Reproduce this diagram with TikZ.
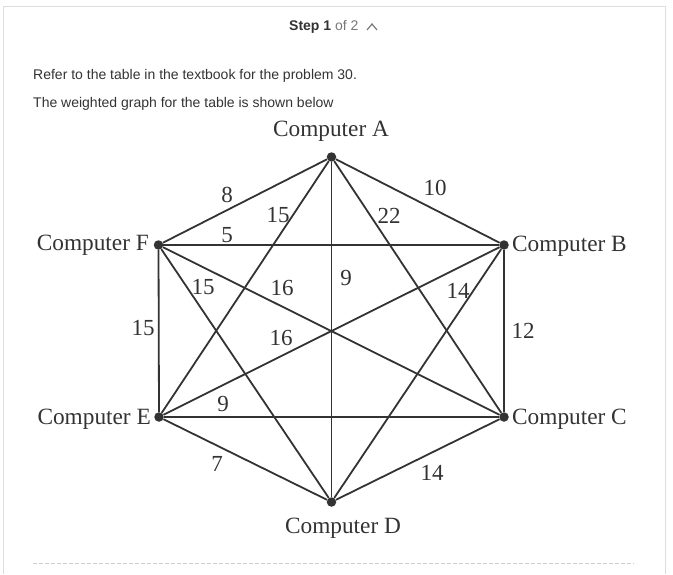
\documentclass[tikz,border=0pt]{standalone}
\usepackage{fontspec}
\setmainfont{Liberation Serif}
\newfontfamily\uifont{Liberation Sans}
\definecolor{ink}{HTML}{333333}
\definecolor{frame}{HTML}{DDDDDD}
\definecolor{muted}{HTML}{777777}
\begin{document}
\begin{tikzpicture}[x=1pt,y=-1pt,
    vert/.style={circle, fill=ink, inner sep=0pt, minimum size=9.5pt},
    edge/.style={draw=ink, line width=1.8pt},
    wt/.style={inner sep=0pt, text=ink, font=\fontsize{23}{27}\selectfont},
    cname/.style={inner sep=0pt, text=ink, font=\fontsize{23.3}{28}\selectfont},
    ui/.style={inner sep=0pt, anchor=west, text=ink, font=\uifont\fontsize{14}{17}\selectfont}]
    \useasboundingbox (0,0) rectangle (673,574);
    % panel
    \draw[frame, line width=1pt] (3,574) -- (3,6) -- (665,6) -- (665,574);
    \node[ui] (step) at (289,27) {\textbf{Step 1} \textcolor{muted}{of 2}};
    \coordinate (caret) at (372,27);
    \draw[muted, line width=1.2pt] ([xshift=-5pt,yshift=-3pt]caret) -- ([yshift=3pt]caret) -- ([xshift=5pt,yshift=-3pt]caret);
    \node[ui] (refer) at (33,76) {Refer to the table in the textbook for the problem 30.};
    \node[ui] (shown) at (33,104) {The weighted graph for the table is shown below};
    \draw[frame!85!gray, line width=1pt, dash pattern=on 4pt off 2pt] (33,563) -- (634,563);

    % computers
    \node[vert] (A) at (331.5,157) {};
    \node[vert] (F) at (158.5,245) {};
    \node[vert] (B) at (504,245) {};
    \node[vert] (E) at (159,417) {};
    \node[vert] (C) at (504,417) {};
    \node[vert] (D) at (331.5,502) {};

    \node[cname] (labA) at (331,131) {Computer A};
    \node[cname, anchor=east] (labF) at (149,245) {Computer F};
    \node[cname, anchor=west] (labB) at (512,246) {Computer B};
    \node[cname, anchor=east] (labE) at (151,419) {Computer E};
    \node[cname, anchor=west] (labC) at (512,419) {Computer C};
    \node[cname] (labD) at (343,528) {Computer D};

    % links
    \draw[edge] (A) -- (F);
    \draw[edge] (A) -- (B);
    \draw[edge] (A) -- (E);
    \draw[edge] (A) -- (C);
    \draw[edge] (A) -- (D);
    \draw[edge] (F) -- (B);
    \draw[edge] (F) -- (E);
    \draw[edge] (F) -- (C);
    \draw[edge] (F) -- (D);
    \draw[edge] (B) -- (C);
    \draw[edge] (B) -- (E);
    \draw[edge] (B) -- (D);
    \draw[edge] (E) -- (C);
    \draw[edge] (E) -- (D);
    \draw[edge] (C) -- (D);

    % weights
    \node[wt] (wAF) at (227,195) {8};
    \node[wt] (wAB) at (435,188) {10};
    \node[wt] (wAE) at (278,215) {15};
    \node[wt] (wAC) at (389,216) {22};
    \node[wt] (wFB) at (227,235) {5};
    \node[wt] (wFD) at (203,287) {15};
    \node[wt] (wFC) at (282,288) {16};
    \node[wt] (wAD) at (346,278) {9};
    \node[wt] (wBD) at (458,291) {14};
    \node[wt] (wFE) at (143,328) {15};
    \node[wt] (wBC) at (523,331) {12};
    \node[wt] (wEB) at (281,338) {16};
    \node[wt] (wEC) at (223,404) {9};
    \node[wt] (wED) at (217,464) {7};
    \node[wt] (wCD) at (432,473) {14};
  \end{tikzpicture}
\end{document}
